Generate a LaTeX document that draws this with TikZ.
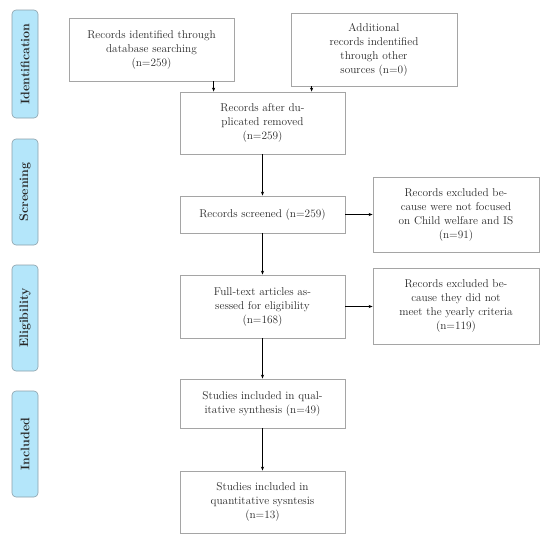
\documentclass[tikz,border=0pt]{standalone}
\usetikzlibrary{arrows.meta,calc}
\definecolor{lblfill}{RGB}{180,230,250}
\definecolor{lbldraw}{RGB}{140,160,170}
\definecolor{boxdraw}{RGB}{165,165,165}
\definecolor{txt}{RGB}{40,40,40}
\begin{document}
\begin{tikzpicture}[x=1pt,y=-1pt,
  box/.style={draw=boxdraw,line width=0.8pt,align=center,inner sep=0pt,
    text=txt,font=\fontsize{11.3}{14}\selectfont},
  lbl/.style={draw=lbldraw,fill=lblfill,rounded corners=4pt,line width=0.6pt,
    rotate=90,inner sep=0pt,font=\fontsize{12.4}{14}\selectfont\bfseries,text=txt},
  arr/.style={-{Stealth[length=4pt,width=3.2pt]},line width=0.9pt,black}]
\useasboundingbox (0,0) rectangle (550,546);
% phase labels
\node[lbl,minimum width=108pt,minimum height=26pt] (l1) at (25,64) {Identification};
\node[lbl,minimum width=106pt,minimum height=26pt] (l2) at (25,192) {Screening};
\node[lbl,minimum width=106pt,minimum height=26pt] (l3) at (25,318) {Eligibility};
\node[lbl,minimum width=106pt,minimum height=26pt] (l4) at (25,444) {Included};
% boxes
\node[box,minimum width=165pt,minimum height=63pt] (A) at (151.5,49.5)
  {Records identified through\\database searching\\(n=259)};
\node[box,minimum width=166pt,minimum height=73pt] (B) at (374,49.5)
  {Additional\\records indentified\\through other\\sources (n=0)};
\node[box,minimum width=165pt,minimum height=62pt] (C) at (262.5,123)
  {Records after du-\\plicated removed\\(n=259)};
\node[box,minimum width=165pt,minimum height=37pt] (D) at (262.5,214.5)
  {Records screened (n=259)};
\node[box,minimum width=166pt,minimum height=75pt] (E) at (456,214.5)
  {Records excluded be-\\cause were not focused\\on Child welfare and IS\\(n=91)};
\node[box,minimum width=165pt,minimum height=63pt] (F) at (262.5,306.5)
  {Full-text articles as-\\sessed for eligibility\\(n=168)};
\node[box,minimum width=166pt,minimum height=76pt] (G) at (456,306)
  {Records excluded be-\\cause they did not\\meet the yearly criteria\\(n=119)};
\node[box,minimum width=165pt,minimum height=49pt] (H) at (262.5,403.5)
  {Studies included in qual-\\itative synthesis (n=49)};
\node[box,minimum width=165pt,minimum height=62pt] (I) at (262.5,502)
  {Studies included in\\quantitative sysntesis\\(n=13)};
% arrows
\draw[arr] ([xshift=34pt]C.north west |- A.south) -- ([xshift=34pt]C.north west);
\draw[arr] ([xshift=21pt]B.south west) -- ([xshift=21pt]B.south west |- C.north);
\draw[arr] (C) -- (D);
\draw[arr] (D) -- (E.west |- D);
\draw[arr] (D) -- (F);
\draw[arr] (F.east) -- (G.west |- F.east);
\draw[arr] (F) -- (H);
\draw[arr] (H) -- (I);
\end{tikzpicture}
\end{document}
